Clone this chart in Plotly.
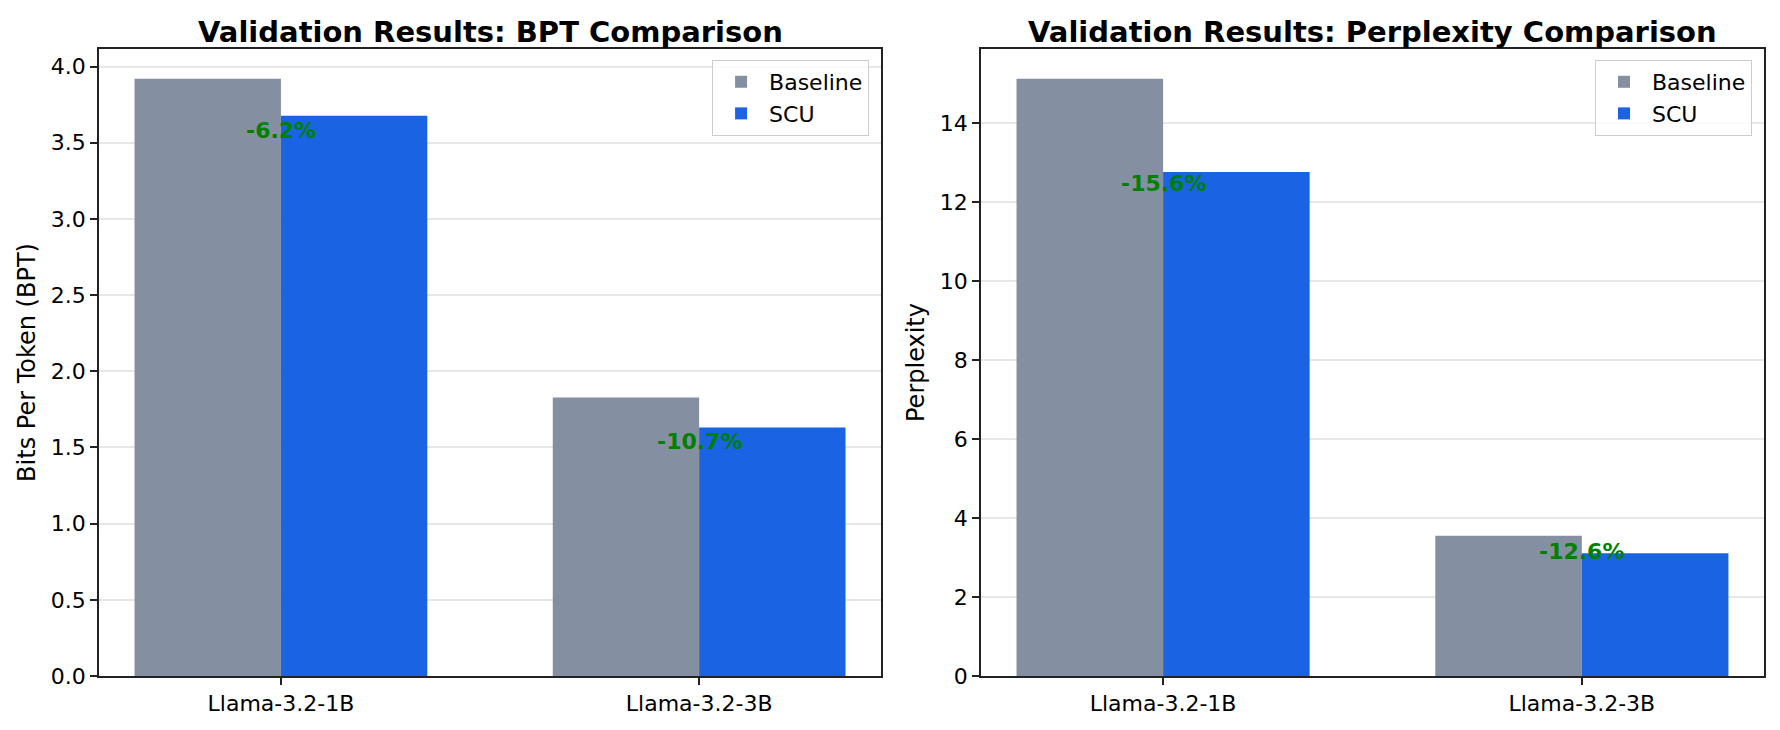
import plotly.graph_objects as go

models = ["Llama-3.2-1B", "Llama-3.2-3B"]

bpt_baseline = [3.919, 1.827]
bpt_scu = [3.677, 1.631]
bpt_labels = ["-6.2%", "-10.7%"]

ppl_baseline = [15.13, 3.555]
ppl_scu = [12.77, 3.107]
ppl_labels = ["-15.6%", "-12.6%"]

GRAY = "#8490a1"
BLUE = "#1a64e3"
FONT = "DejaVu Sans"

# page body keeps an 8px margin, so the figure is sized to sit inside it
W, H = 1764, 714
ML, MR, MT, MB = 91, 6, 41, 45
PW = W - ML - MR
PH = H - MT - MB

fig = go.Figure()

# left panel: BPT
fig.add_trace(go.Bar(x=models, y=bpt_baseline, name="Baseline", marker_color=GRAY,
                     marker_line_width=0, xaxis="x", yaxis="y", legend="legend"))
fig.add_trace(go.Bar(x=models, y=bpt_scu, name="SCU", marker_color=BLUE,
                     marker_line_width=0, xaxis="x", yaxis="y", legend="legend"))
# right panel: perplexity
fig.add_trace(go.Bar(x=models, y=ppl_baseline, name="Baseline", marker_color=GRAY,
                     marker_line_width=0, xaxis="x2", yaxis="y2", legend="legend2"))
fig.add_trace(go.Bar(x=models, y=ppl_scu, name="SCU", marker_color=BLUE,
                     marker_line_width=0, xaxis="x2", yaxis="y2", legend="legend2"))

# improvement labels, centred on each model group
annotations = []
label_shift = [[-15, -14], [-11, 2]]
for ax, vals, labels, shifts in [("", bpt_scu, bpt_labels, label_shift[0]),
                                 ("2", ppl_scu, ppl_labels, label_shift[1])]:
    for m, v, t, s in zip(models, vals, labels, shifts):
        annotations.append(dict(x=m, y=v, xref="x" + ax, yref="y" + ax, text="<b>" + t + "</b>",
                                showarrow=False, yshift=s, xanchor="center", yanchor="middle",
                                font=dict(family=FONT, size=22, color="#008000")))

left_dom = [0, 783 / PW]
right_dom = [883 / PW, 1]
for dom, title in [(left_dom, "Validation Results: BPT Comparison"),
                   (right_dom, "Validation Results: Perplexity Comparison")]:
    annotations.append(dict(x=(dom[0] + dom[1]) / 2, y=1 + 17 / PH,
                            xref="paper", yref="paper", text="<b>" + title + "</b>",
                            showarrow=False, xanchor="center", yanchor="middle",
                            font=dict(family=FONT, size=29, color="black")))

axis_common = dict(showline=True, mirror=True, linecolor="#222222", linewidth=1.6,
                   ticks="outside", ticklen=7, tickwidth=1.6, tickcolor="#222222",
                   tickfont=dict(family=FONT, size=22, color="black"))

xcommon = dict(axis_common, type="category", range=[-0.435, 1.435], showgrid=False)
ycommon = dict(axis_common, rangemode="tozero", showgrid=True,
               gridcolor="rgba(176,176,176,0.3)", gridwidth=1.6,
               layer="above traces", zeroline=False)

legend_style = dict(xanchor="right", y=1 - 11 / PH, yanchor="top",
                    bgcolor="rgba(255,255,255,0.8)", bordercolor="#cccccc", borderwidth=1,
                    itemwidth=46, tracegroupgap=4,
                    font=dict(family=FONT, size=22, color="black"))

fig.update_layout(
    width=W, height=H,
    margin=dict(l=ML, r=MR, t=MT, b=MB),
    paper_bgcolor="white", plot_bgcolor="white",
    barmode="group", bargap=0.3, bargroupgap=0,
    font=dict(family=FONT, size=22, color="black"),
    xaxis=dict(xcommon, domain=left_dom, anchor="y"),
    xaxis2=dict(xcommon, domain=right_dom, anchor="y2"),
    yaxis=dict(ycommon, domain=[0, 1], anchor="x", range=[0, max(bpt_baseline) * 1.05],
               dtick=0.5, tickformat=".1f",
               title=dict(text="Bits Per Token (BPT)", font=dict(family=FONT, size=24), standoff=8)),
    yaxis2=dict(ycommon, domain=[0, 1], anchor="x2", range=[0, max(ppl_baseline) * 1.05],
                dtick=2,
                title=dict(text="Perplexity", font=dict(family=FONT, size=24), standoff=8)),
    legend=dict(legend_style, x=(783 - 12) / PW),
    legend2=dict(legend_style, x=1 - 12 / PW),
    annotations=annotations,
    showlegend=True,
)

fig.write_html("out.html")
